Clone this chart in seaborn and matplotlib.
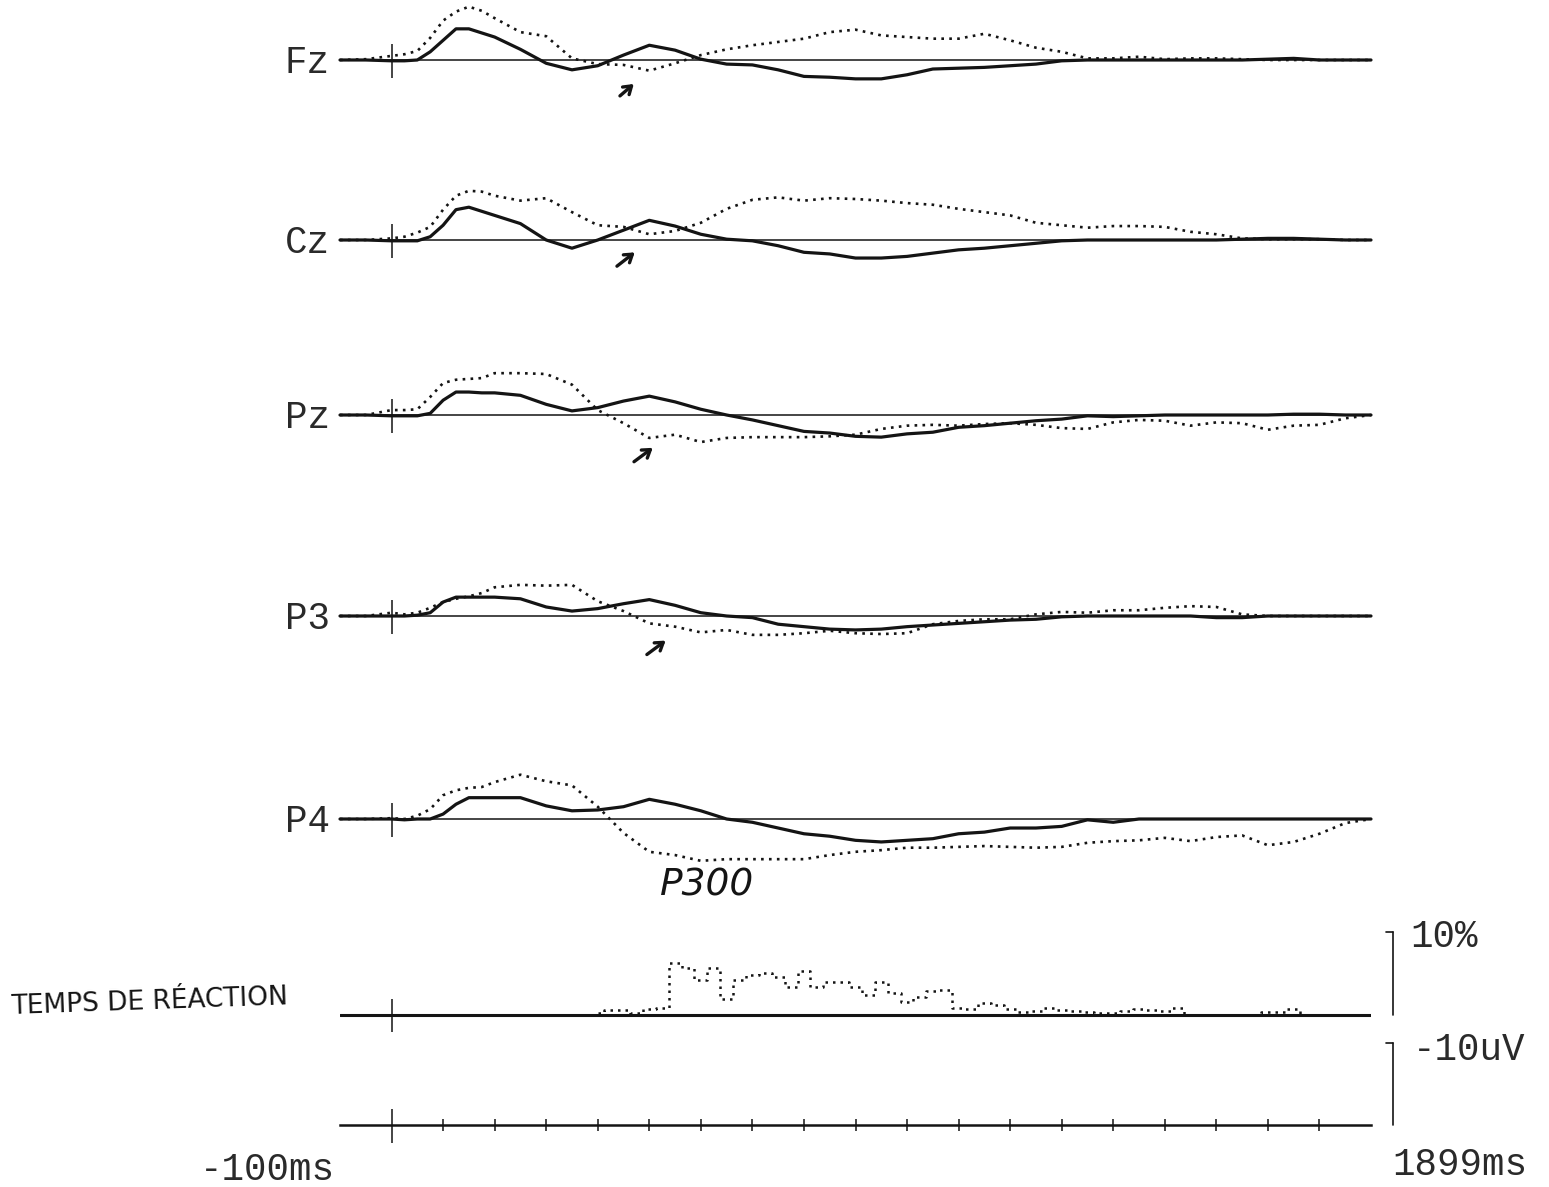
import matplotlib
matplotlib.use("Agg")
import matplotlib.pyplot as plt
import seaborn as sns

# ---------------- data ----------------
T_MS = [-100, -50, 0, 25, 50, 75, 100, 125, 150, 175, 200, 250, 300, 350, 400, 450, 500,
        550, 600, 650, 700, 750, 800, 850, 900, 950, 1000, 1050, 1100, 1150, 1200, 1250,
        1300, 1350, 1400, 1450, 1500, 1550, 1600, 1650, 1700, 1750, 1800, 1850, 1900]

CHANNELS = ["Fz", "Cz", "Pz", "P3", "P4"]

# microvolts, negative plotted upwards (EEG convention)
FZ_SOLID = [0, 0, 0.1, 0.1, 0, -1.0, -2.4, -3.8, -3.8, -3.3, -2.8, -1.3, 0.4, 1.2, 0.7, -0.6,
            -1.8, -1.2, -0.1, 0.5, 0.6, 1.2, 2.0, 2.1, 2.3, 2.3, 1.8, 1.1, 1.0, 0.9, 0.7, 0.5,
            0.1, 0, 0, 0, 0, 0, 0, 0, -0.1, -0.2, 0, 0, 0]
FZ_DOT = [0, -0.1, -0.5, -0.7, -1.1, -2.7, -4.8, -5.9, -6.5, -6.0, -5.1, -3.4, -2.9, -0.2, 0.5,
          0.6, 1.3, 0.4, -0.6, -1.3, -1.8, -2.2, -2.6, -3.4, -3.7, -3.0, -2.8, -2.6, -2.6, -3.2,
          -2.4, -1.5, -1.0, -0.2, -0.2, -0.4, -0.1, -0.2, -0.2, -0.1, 0, 0, 0, 0, 0]
CZ_SOLID = [0, 0, 0.1, 0.1, 0.1, -0.4, -1.8, -3.7, -4.0, -3.5, -3.0, -2.0, 0, 1.0, 0, -1.2,
            -2.4, -1.7, -0.7, -0.1, 0.1, 0.7, 1.5, 1.7, 2.2, 2.2, 2.0, 1.6, 1.2, 1.0, 0.7, 0.4,
            0.1, 0, 0, 0, 0, 0, 0, -0.1, -0.2, -0.2, -0.1, 0, 0]
CZ_DOT = [0, 0, -0.2, -0.4, -0.9, -1.6, -3.7, -5.4, -6.0, -5.9, -5.4, -4.8, -5.1, -3.4, -1.8,
          -1.6, -0.7, -1.1, -2.1, -3.8, -4.9, -5.2, -4.8, -5.1, -5.0, -4.8, -4.5, -4.3, -3.8,
          -3.4, -3.0, -2.1, -1.8, -1.5, -1.7, -1.7, -1.6, -1.0, -0.7, -0.2, -0.1, -0.1, -0.1, 0, 0]
PZ_SOLID = [0, 0, 0.1, 0.1, 0.1, -0.2, -1.8, -2.8, -2.8, -2.7, -2.7, -2.4, -1.3, -0.5, -0.9,
            -1.7, -2.3, -1.6, -0.7, 0, 0.6, 1.3, 2.0, 2.2, 2.6, 2.7, 2.3, 2.1, 1.5, 1.3, 1.0,
            0.7, 0.5, 0.1, 0.2, 0.1, 0, 0, 0, 0, 0, -0.1, -0.1, 0, 0]
PZ_DOT = [0, 0, -0.6, -0.6, -0.7, -2.2, -3.9, -4.3, -4.4, -4.5, -5.1, -5.1, -5.0, -3.7, -0.6,
          1.0, 2.8, 2.4, 3.3, 2.8, 2.7, 2.7, 2.7, 2.6, 2.4, 1.7, 1.3, 1.2, 1.3, 1.1, 1.0, 1.2,
          1.6, 1.7, 0.9, 0.6, 0.7, 1.3, 0.9, 1.0, 1.8, 1.3, 1.2, 0.4, 0]
P3_SOLID = [0, 0, 0, 0, -0.1, -0.4, -1.7, -2.3, -2.3, -2.3, -2.3, -2.1, -1.1, -0.6, -0.9, -1.5,
            -2.0, -1.3, -0.4, 0, 0.2, 1.0, 1.3, 1.6, 1.7, 1.6, 1.3, 1.1, 0.9, 0.7, 0.5, 0.4,
            0.1, 0, 0, 0, 0, 0, 0.2, 0.2, 0, 0, 0, 0, 0]
P3_DOT = [0, 0, -0.4, -0.2, -0.4, -1.0, -1.7, -2.1, -2.4, -2.8, -3.5, -3.8, -3.7, -3.8, -1.8,
          -0.6, 0.9, 1.3, 2.0, 1.7, 2.3, 2.3, 2.1, 1.8, 2.1, 2.2, 2.1, 1.0, 0.6, 0.4, 0.4, -0.2,
          -0.5, -0.4, -0.7, -0.7, -1.0, -1.2, -1.1, -0.2, 0, 0, 0, 0, 0]
P4_SOLID = [0, 0, 0, 0.1, 0, 0, -0.6, -1.8, -2.6, -2.6, -2.6, -2.6, -1.6, -1.0, -1.1, -1.5,
            -2.4, -1.8, -1.0, 0, 0.4, 1.1, 1.8, 2.1, 2.6, 2.8, 2.6, 2.4, 1.8, 1.6, 1.1, 1.1,
            0.9, 0.1, 0.4, 0, 0, 0, 0, 0, 0, 0, 0, 0, 0]
P4_DOT = [0, 0, -0.1, 0, -0.4, -1.2, -2.9, -3.5, -3.8, -3.9, -4.5, -5.4, -4.6, -4.1, -1.5, 1.7,
          4.0, 4.4, 5.1, 4.9, 4.9, 4.9, 4.9, 4.4, 4.0, 3.8, 3.5, 3.5, 3.4, 3.3, 3.4, 3.5, 3.4,
          2.9, 2.7, 2.6, 2.3, 2.7, 2.2, 2.0, 3.2, 2.8, 1.8, 0.5, 0]

SOLID = [FZ_SOLID, CZ_SOLID, PZ_SOLID, P3_SOLID, P4_SOLID]
DOTTED = [FZ_DOT, CZ_DOT, PZ_DOT, P3_DOT, P4_DOT]

# reaction-time distribution (%)
RT_MS = [400, 425, 450, 475, 500, 525, 550, 575, 600, 625, 650, 675, 700, 725, 750, 775, 800,
         825, 850, 875, 900, 925, 950, 975, 1000, 1025, 1050, 1075, 1100, 1125, 1150, 1175,
         1200, 1225, 1250, 1275, 1300, 1325, 1350, 1375, 1400, 1425, 1450, 1475, 1500, 1525,
         1550, 1575, 1600, 1625, 1650, 1675, 1700, 1725, 1750, 1775, 1800]
RT_PCT = [0.2, 0.6, 0.6, 0.2, 0.7, 0.8, 6.3, 5.7, 4.2, 5.7, 1.9, 4.2, 4.8, 5.1, 4.6, 3.4, 5.3,
          3.4, 4.0, 4.0, 3.4, 2.4, 4.0, 2.7, 1.6, 2.2, 2.9, 3.0, 0.8, 0.7, 1.4, 1.2, 0.7, 0.4,
          0.5, 0.8, 0.6, 0.5, 0.4, 0.2, 0.2, 0.5, 0.7, 0.6, 0.5, 0.8, 0, 0, 0, 0, 0, 0, 0.4,
          0.4, 0.7, 0, 0]

TICKS_MS = [100, 200, 300, 400, 500, 600, 700, 800, 900, 1000, 1100, 1200, 1300, 1400, 1500,
            1600, 1700, 1800]
T_START, T_END = -100, 1900
SCALE_UV = -10
SCALE_PCT = 10

# hand-drawn arrows: (channel, tail_ms, tail_uv, head_ms, head_uv)
ARROWS = [("Fz", 439, 4.6, 474, 2.7), ("Cz", 433, 3.4, 476, 1.3),
          ("Pz", 466, 5.9, 511, 3.8), ("P3", 491, 4.9, 536, 2.8)]

# ---------------- layout ----------------
sns.set_theme(style="white")
plt.rcParams["font.family"] = ["Liberation Mono", "DejaVu Sans"]

W, H = 1549, 1187
fig = plt.figure(figsize=(W / 100, H / 100), dpi=100)
fig.patch.set_facecolor("white")
X0, X1 = 340, 1371
PX_UV = 8.2
PX_PCT = 8.3
INK = "#141414"
TXT = "#2a2a2a"
BASELINES = {"Fz": 60, "Cz": 240, "Pz": 415, "P3": 616, "P4": 819}
RT_BASE = 1015
AX_BASE = 1125
SCALE_X = 1942
DOTS = (0, (1, 2))


def axes_at(top_px, height_px):
    a = fig.add_axes([X0 / W, 1 - (top_px + height_px) / H, (X1 - X0) / W, height_px / H])
    a.set_facecolor("none")
    return a


for name, solid, dotted in zip(CHANNELS, SOLID, DOTTED):
    base = BASELINES[name]
    ax = axes_at(base - 7 * PX_UV, 15 * PX_UV)
    ax.axhline(0, color=INK, lw=1.1, zorder=1)
    sns.lineplot(x=T_MS, y=dotted, ax=ax, color=INK, lw=1.9, linestyle=DOTS,
                 estimator=None, clip_on=False, zorder=2)
    sns.lineplot(x=T_MS, y=solid, ax=ax, color=INK, lw=2.3,
                 estimator=None, clip_on=False, zorder=3)
    ax.vlines(0, -1.9, 2.2, color=INK, lw=1.1, clip_on=False)
    ax.set_xlim(T_START, T_END)
    ax.set_ylim(8, -7)
    ax.axis("off")
    fig.text(330 / W, 1 - (base + 3) / H, name, ha="right", va="center",
             fontsize=27, color=TXT)
    for ch, t0, v0, t1, v1 in ARROWS:
        if ch == name:
            ax.annotate("", xy=(t1, v1), xytext=(t0, v0),
                        arrowprops=dict(arrowstyle="->,head_length=0.45,head_width=0.3",
                                        lw=2.4, color=INK), annotation_clip=False)
    if name == "P4":
        ax.text((707 - 392) / 0.515, (885 - base) / PX_UV, "P300",
                ha="center", va="center", fontsize=27, color=INK,
                family=["DejaVu Sans"], fontstyle="italic", clip_on=False)

# reaction time row
rax = axes_at(RT_BASE - 10.5 * PX_PCT, 13 * PX_PCT)
rax.axhline(0, color=INK, lw=2.2, zorder=1)
sns.lineplot(x=RT_MS, y=RT_PCT, ax=rax, color=INK, lw=1.8, linestyle=DOTS,
             drawstyle="steps-mid", estimator=None, clip_on=False, zorder=2)
rax.vlines(0, -2.0, 1.9, color=INK, lw=1.1, clip_on=False)
rax.plot([SCALE_X, SCALE_X], [0, SCALE_PCT], color=INK, lw=1.2, clip_on=False)
rax.plot([SCALE_X - 12, SCALE_X], [SCALE_PCT, SCALE_PCT], color=INK, lw=1.2, clip_on=False)
rax.text(1977, 9.4, "10%", ha="left", va="center", fontsize=27, color=TXT, clip_on=False)
rax.set_xlim(T_START, T_END)
rax.set_ylim(-2.5, 10.5)
rax.axis("off")
fig.text(10 / W, 1 - 1002 / H, "TEMPS DE RÉACTION", ha="left", va="center",
         fontsize=19, color=INK, family=["DejaVu Sans"], rotation=2)

# time axis row
tax = axes_at(AX_BASE - 11 * PX_UV, 13.5 * PX_UV)
tax.set_xlim(T_START, T_END)
tax.set_ylim(2.5, -11)
for s in ["left", "right", "top"]:
    tax.spines[s].set_visible(False)
tax.spines["bottom"].set_position(("data", 0))
tax.spines["bottom"].set_color(INK)
tax.spines["bottom"].set_linewidth(1.8)
tax.set_xticks(TICKS_MS)
tax.set_yticks([])
tax.tick_params(axis="x", bottom=True, direction="inout", length=9, width=1.1,
                color=INK, labelbottom=False)
tax.vlines(0, -2.0, 2.2, color=INK, lw=1.1, clip_on=False)
tax.plot([SCALE_X, SCALE_X], [0, SCALE_UV], color=INK, lw=1.2, clip_on=False)
tax.plot([SCALE_X - 12, SCALE_X], [SCALE_UV, SCALE_UV], color=INK, lw=1.2, clip_on=False)
tax.text(1981, -9.1, "-10uV", ha="left", va="center", fontsize=27, color=TXT, clip_on=False)

fig.text(335 / W, 1 - 1170 / H, "-100ms", ha="right", va="center", fontsize=27, color=TXT)
fig.text(1392 / W, 1 - 1165 / H, "1899ms", ha="left", va="center", fontsize=27, color=TXT)

fig.savefig("out.png", dpi=100, facecolor="white")
